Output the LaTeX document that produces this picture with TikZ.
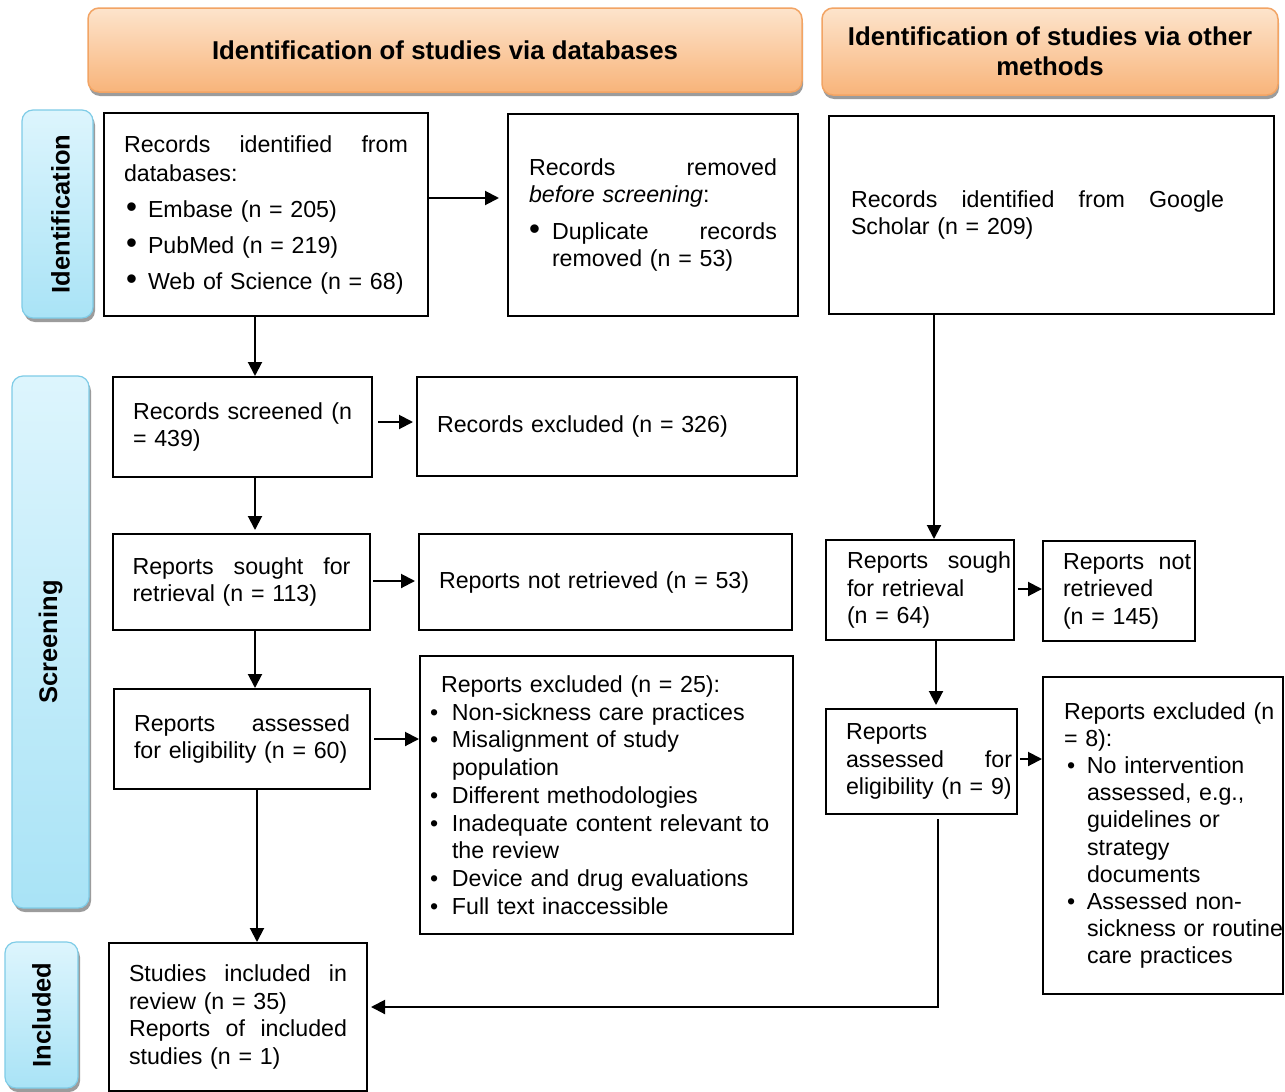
\documentclass[tikz,border=0pt]{standalone}
\usepackage{fontspec}
\usepackage{graphicx}
\setmainfont{Liberation Sans}
\usetikzlibrary{arrows.meta,shadows,calc}
\definecolor{orTop}{HTML}{FDE4CC}
\definecolor{orBot}{HTML}{F8B47A}
\definecolor{orLine}{HTML}{F2A464}
\definecolor{blTop}{HTML}{DDF5FD}
\definecolor{blBot}{HTML}{A9E3F6}
\definecolor{blLine}{HTML}{7FCCE7}
\newcommand\jus[2]{\leavevmode\hbox to #1{#2}}
\newcommand\bigbul{\scalebox{1.35}{\textbullet}}
\newcommand\txtfont{\fontsize{23.2}{27.5}\selectfont}
\begin{document}
\begin{tikzpicture}[x=1pt,y=-1pt,
  box/.style={draw=black, line width=2pt, inner sep=0pt, align=left, font=\txtfont},
  header/.style={draw=orLine, line width=1.5pt, rounded corners=11pt, top color=orTop, bottom color=orBot,
     drop shadow={shadow xshift=1pt, shadow yshift=-4pt, fill=black!55, opacity=0.7},
     align=center, inner sep=0pt, font=\fontsize{25.8}{30}\selectfont\bfseries},
  side/.style={draw=blLine, line width=1.2pt, rounded corners=11pt, top color=blTop, bottom color=blBot,
     drop shadow={shadow xshift=2pt, shadow yshift=-4pt, fill=black!55, opacity=0.7},
     inner sep=0pt, font=\fontsize{25.5}{30}\selectfont\bfseries},
  arr/.style={line width=2pt, -{Triangle[length=14pt,width=14pt]}}
]
\useasboundingbox (0,0) rectangle (1285,1092);
\fill[white] (0,0) rectangle (1285,1092);

% headers
\node[header, minimum width=714, minimum height=84] (H1) at (445,50) {Identification of studies via databases};
\node[header, minimum width=456, minimum height=87] (H2) at (1050,51.5) {Identification of studies via other\\methods};

% side labels
\node[side, minimum width=71, minimum height=208] (S1) at (57.5,214) {\hspace*{6pt}\rotatebox{90}{Identification}};
\node[side, minimum width=77, minimum height=532] (S2) at (50.5,642) {\rotatebox{90}{Screening}};
\node[side, minimum width=73, minimum height=146] (S3) at (41.5,1015) {\rotatebox{90}{Included}};

% boxes
\node[box, minimum width=324, minimum height=203, text width=284pt, font=\fontsize{23.2}{29}\selectfont] (A) at (266,214.5) {%
\jus{284pt}{Records\hfill identified\hfill from}\\
databases:\\[7pt]
\hspace*{2pt}\makebox[22pt][l]{\bigbul}Embase (n = 205)\\[7pt]
\hspace*{2pt}\makebox[22pt][l]{\bigbul}PubMed (n = 219)\\[7pt]
\hspace*{2pt}\makebox[22pt][l]{\bigbul}Web of Science (n = 68)};

\node[box, minimum width=290, minimum height=202, text width=248pt] (B) at (653,215) {%
\jus{248pt}{Records\hfill removed}\\
\textit{before screening}:\\[9pt]
\jus{248pt}{\makebox[23pt][l]{\bigbul}Duplicate\hfill records}\\
\hspace*{23pt}removed (n = 53)};

\node[box, minimum width=445, minimum height=198, text width=401pt] (C) at (1051.5,215) {%
\jus{373pt}{Records\hfill identified\hfill from\hfill Google}\\
Scholar (n = 209)};

\node[box, minimum width=259, minimum height=100, text width=219pt] (D) at (242.5,427) {%
\jus{219pt}{Records\hfill screened\hfill (n}\\
= 439)};

\node[box, minimum width=380, minimum height=99, text width=340pt] (E) at (607,426.5) {Records excluded (n = 326)};

\node[box, minimum width=257, minimum height=96, text width=218pt] (F) at (241.5,582) {%
\jus{218pt}{Reports\hfill sought\hfill for}\\
retrieval (n = 113)};

\node[box, minimum width=373, minimum height=96, text width=333pt] (G) at (605.5,582) {Reports not retrieved (n = 53)};

\node[box, minimum width=256, minimum height=100, text width=216pt] (H) at (242,739) {%
\jus{216pt}{Reports\hfill assessed}\\
for eligibility (n = 60)};

\node[box, minimum width=373, minimum height=278, text width=353pt, font=\fontsize{23.2}{27.75}\selectfont] (I) at (606.5,795) {%
\hspace*{11pt}Reports excluded (n = 25):\\
\makebox[22pt][l]{\textbullet}Non-sickness care practices\\
\makebox[22pt][l]{\textbullet}Misalignment of study\\
\hspace*{22pt}population\\
\makebox[22pt][l]{\textbullet}Different methodologies\\
\makebox[22pt][l]{\textbullet}Inadequate content relevant to\\
\hspace*{22pt}the review\\
\makebox[22pt][l]{\textbullet}Device and drug evaluations\\
\makebox[22pt][l]{\textbullet}Full text inaccessible};

\node[box, minimum width=188, minimum height=100, text width=146pt] (J) at (920,590) {%
\jus{164pt}{Reports\hfill sough}\\
for retrieval\\
(n = 64)};

\node[box, minimum width=152, minimum height=100, text width=112pt] (K) at (1119,591) {%
\jus{128pt}{Reports\hfill not}\\
retrieved\\
(n = 145)};

\node[box, minimum width=191, minimum height=105, text width=151pt] (L) at (921.5,761.5) {%
Reports\\
\jus{166pt}{assessed\hfill for}\\
\mbox{eligibility (n = 9)}};

\node[box, minimum width=240, minimum height=317, text width=198pt, font=\fontsize{23.2}{27.1}\selectfont] (M) at (1163,835.5) {%
\mbox{Reports excluded (n}\\
= 8):\\
\hspace*{3pt}\makebox[20pt][l]{\textbullet}No intervention\\
\hspace*{23pt}assessed, e.g.,\\
\hspace*{23pt}guidelines or\\
\hspace*{23pt}strategy\\
\hspace*{23pt}documents\\
\hspace*{3pt}\makebox[20pt][l]{\textbullet}Assessed non-\\
\hspace*{23pt}\mbox{sickness or routine}\\
\hspace*{23pt}care practices};

\node[box, minimum width=258, minimum height=148, text width=218pt] (N) at (238,1017) {%
\jus{218pt}{Studies\hfill included\hfill in}\\
review (n = 35)\\
\jus{218pt}{Reports\hfill of\hfill included}\\
studies (n = 1)};

% connectors
\draw[arr, shorten >=8pt] ([yshift=16.5pt]A.east) -- ([yshift=17pt]B.west);
\draw[arr] ([xshift=-11pt]A.south) -- ([xshift=12.5pt]D.north);
\draw[arr, shorten <=5pt, shorten >=3pt] ([yshift=5pt]D.east) -- ([yshift=4.5pt]E.west);
\draw[arr, shorten >=3pt] ([xshift=12.5pt]D.south) -- ([xshift=13.5pt]F.north);
\draw[arr, shorten <=2pt, shorten >=3pt] ([yshift=1pt]F.east) -- ([yshift=1pt]G.west);
\draw[arr] ([xshift=13.5pt]F.south) -- ([xshift=13pt]H.north);
\draw[arr, shorten <=3pt] (H.east) -- (H.east -| I.west);
\draw[arr] ([xshift=15pt]H.south) -- ([xshift=15pt]H.south |- N.north);
\draw[arr] ([xshift=-117.5pt]C.south) -- ([xshift=-117.5pt]C.south |- J.north);
\draw[arr, shorten <=3pt] ([yshift=1pt]J.east) -- ([yshift=1pt]J.east -| K.west);
\draw[arr, shorten >=3pt] ([xshift=16pt]J.south) -- ([xshift=16pt]J.south |- L.north);
\draw[arr, shorten <=2pt] ([yshift=2.5pt]L.east) -- ([yshift=2.5pt]L.east -| M.west);
\coordinate (NE) at ([yshift=10pt]N.east);
\draw[arr, shorten >=3pt] ([xshift=16.5pt,yshift=-4pt]L.south) -- ([xshift=16.5pt]L.south |- NE) -- (NE);
\end{tikzpicture}
\end{document}
